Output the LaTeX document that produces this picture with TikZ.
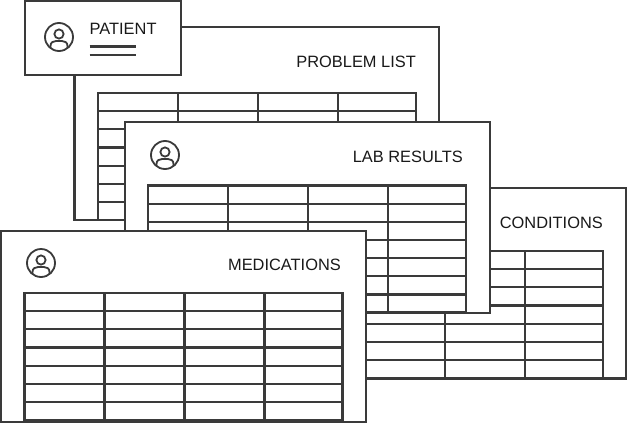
\documentclass[tikz,border=0pt]{standalone}
\usepackage{fontspec}
\setmainfont{Liberation Sans}
\definecolor{ink}{HTML}{3A3A3A}
\tikzset{
  sheet/.style={draw=ink,fill=white,line width=2.2pt},
  rule/.style={draw=ink,line width=2.2pt},
  thin rule/.style={draw=ink,line width=1.8pt},
  label text/.style={text=black!90,inner sep=0pt,font=\fontsize{16.4}{19}\selectfont,anchor=base east},
}
\newcommand{\gridtable}[2]{%
  \begin{scope}[shift={(#1,#2)}]
    \foreach \yy in {18.15,36.3,54.45,72.6,90.75,108.9} \draw[rule] (0,\yy) -- (318,\yy);
    \foreach \xx in {80,160,240} \draw[rule] (\xx,0) -- (\xx,127);
    \draw[rule] (0,0) rectangle (318,127);
  \end{scope}}
\newcommand{\personicon}[2]{%
  \begin{scope}[shift={(#1,#2)}]
    \draw[thin rule] (0,0) circle (14);
    \draw[thin rule] (0,-3) circle (4.6);
    \begin{scope}
      \clip (0,0) circle (14);
      \draw[thin rule] (-8.5,14) -- (-8.5,9) .. controls (-8.5,5.5) and (-6,4) .. (-3,4) -- (3,4) .. controls (6,4) and (8.5,5.5) .. (8.5,9) -- (8.5,14);
    \end{scope}
  \end{scope}}
\begin{document}
\begin{tikzpicture}[x=1pt,y=-1pt]
\useasboundingbox (0,0) rectangle (628,423);
\fill[white] (0,0) rectangle (628,423);
% Conditions
\draw[sheet] (262,188) rectangle (626,378.5);
\gridtable{285}{251}
\node[label text] (conditions) at (603,228) {CONDITIONS};
% Problem list
\draw[sheet] (74.5,27) rectangle (439,220);
\gridtable{98}{93}
\node[label text] (problems) at (416,67) {PROBLEM LIST};
% Lab results
\draw[sheet] (125,122) rectangle (490,313);
\gridtable{148}{185.5}
\personicon{165}{155}
\node[label text] (lab) at (463,162) {LAB RESULTS};
% Medications
\draw[sheet] (1,231) rectangle (366,421.8);
\gridtable{24.5}{293}
\personicon{41}{263}
\node[label text] (meds) at (341,270) {MEDICATIONS};
% Patient
\draw[sheet] (25,1) rectangle (181,75);
\personicon{59}{37}
\node[label text,anchor=base west] (patient) at (89.5,34) {PATIENT};
\draw[rule] (89.5,46.5) -- (136,46.5);
\draw[rule] (89.5,55) -- (136,55);
\end{tikzpicture}
\end{document}
